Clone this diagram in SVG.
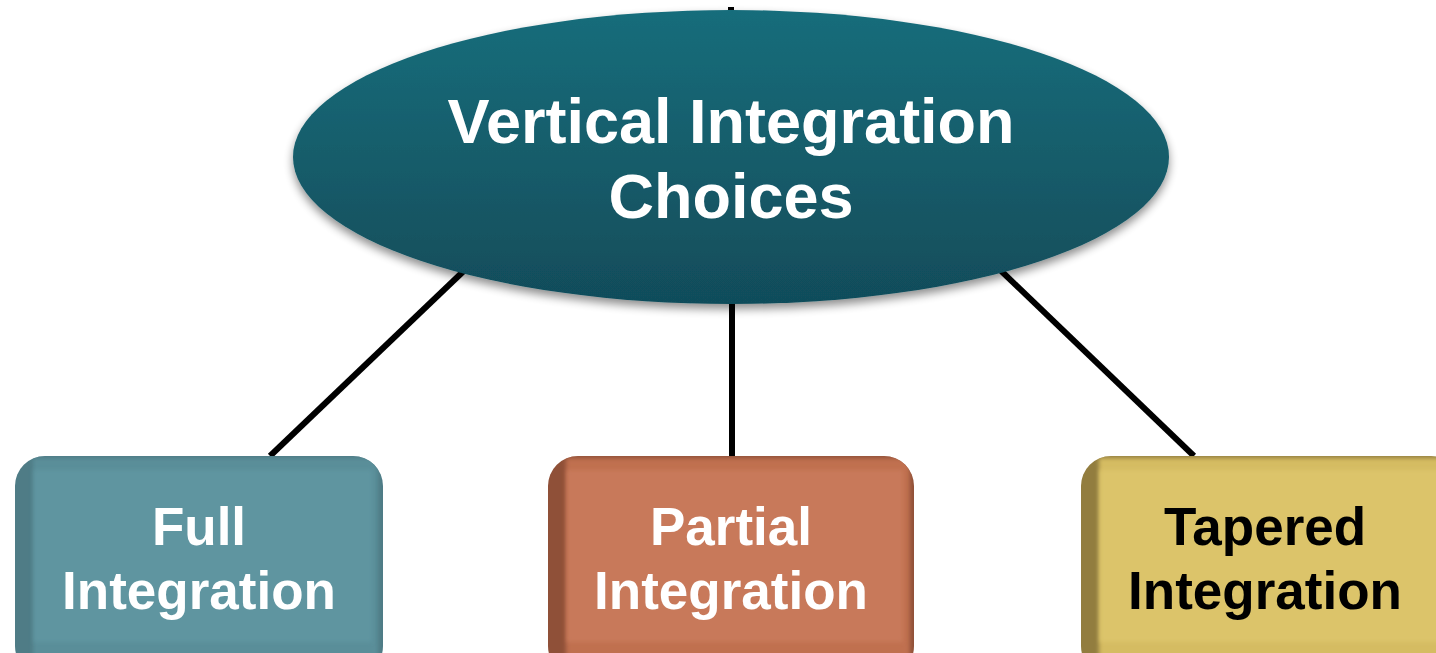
<svg xmlns="http://www.w3.org/2000/svg" width="1436" height="653" viewBox="0 0 1436 653">
  <defs>
    <linearGradient id="ovalFill" x1="0" y1="0" x2="0" y2="1">
      <stop offset="0" stop-color="#186d7b"/>
      <stop offset="1" stop-color="#114c5a"/>
    </linearGradient>
    <filter id="softShadow" x="-10%" y="-10%" width="120%" height="130%">
      <feGaussianBlur in="SourceAlpha" stdDeviation="5"/>
      <feOffset dx="0" dy="5" result="b"/>
      <feComponentTransfer><feFuncA type="linear" slope="0.45"/></feComponentTransfer>
      <feMerge><feMergeNode/><feMergeNode in="SourceGraphic"/></feMerge>
    </filter>
    <filter id="bevelBlur" x="-5%" y="-5%" width="110%" height="110%">
      <feGaussianBlur stdDeviation="2"/>
    </filter>
    <clipPath id="clipFull"><rect x="15" y="456" width="368" height="220" rx="30"/></clipPath>
    <clipPath id="clipPartial"><rect x="548" y="456" width="366" height="220" rx="30"/></clipPath>
    <clipPath id="clipTapered"><rect x="1081" y="456" width="380" height="220" rx="30"/></clipPath>
  </defs>
  <style>
    .link { stroke: #000; stroke-width: 6; fill: none; }
    .title { font-family: "Liberation Sans", Arial, sans-serif; font-weight: bold; font-size: 63px; fill: #fff; text-anchor: middle; }
    .label { font-family: "Liberation Sans", Arial, sans-serif; font-weight: bold; font-size: 53px; text-anchor: middle; }
  </style>
  <rect width="1436" height="653" fill="#fff"/>

  <!-- connectors -->
  <g id="connectors">
    <line class="link" x1="731" y1="7" x2="731" y2="14" stroke-width="4"/>
    <line class="link" x1="470" y1="265" x2="270" y2="456"/>
    <line class="link" x1="732" y1="290" x2="732" y2="456"/>
    <line class="link" x1="995" y1="265" x2="1194" y2="456"/>
  </g>

  <!-- central oval -->
  <g id="node-root">
    <ellipse cx="731" cy="157" rx="438" ry="147" fill="url(#ovalFill)" filter="url(#softShadow)"/>
    <text class="title" x="731" y="143">Vertical Integration</text>
    <text class="title" x="731" y="218">Choices</text>
  </g>

  <!-- Full Integration: bevelled button -->
  <g id="node-full">
    <g clip-path="url(#clipFull)">
      <rect x="15" y="456" width="368" height="220" fill="#4f7c86"/>
      <rect x="33" y="458" width="345" height="200" fill="#5a8e99" filter="url(#bevelBlur)"/>
      <rect x="34" y="470" width="338" height="172" fill="#5e95a0" filter="url(#bevelBlur)"/>
    </g>
    <text class="label" x="199" y="545" fill="#fff">Full</text>
    <text class="label" x="199" y="609" fill="#fff">Integration</text>
  </g>

  <!-- Partial Integration: bevelled button -->
  <g id="node-partial">
    <g clip-path="url(#clipPartial)">
      <rect x="548" y="456" width="366" height="220" fill="#8f5038"/>
      <rect x="566" y="458" width="344" height="200" fill="#c06f50" filter="url(#bevelBlur)"/>
      <rect x="567" y="470" width="336" height="172" fill="#c8795a" filter="url(#bevelBlur)"/>
    </g>
    <text class="label" x="731" y="545" fill="#fff">Partial</text>
    <text class="label" x="731" y="609" fill="#fff">Integration</text>
  </g>

  <!-- Tapered Integration: bevelled button -->
  <g id="node-tapered">
    <g clip-path="url(#clipTapered)">
      <rect x="1081" y="456" width="380" height="220" fill="#927d3f"/>
      <rect x="1099" y="458" width="350" height="200" fill="#d5bc62" filter="url(#bevelBlur)"/>
      <rect x="1100" y="470" width="345" height="172" fill="#dcc46a" filter="url(#bevelBlur)"/>
    </g>
    <text class="label" x="1265" y="545" fill="#000">Tapered</text>
    <text class="label" x="1265" y="609" fill="#000">Integration</text>
  </g>
</svg>
